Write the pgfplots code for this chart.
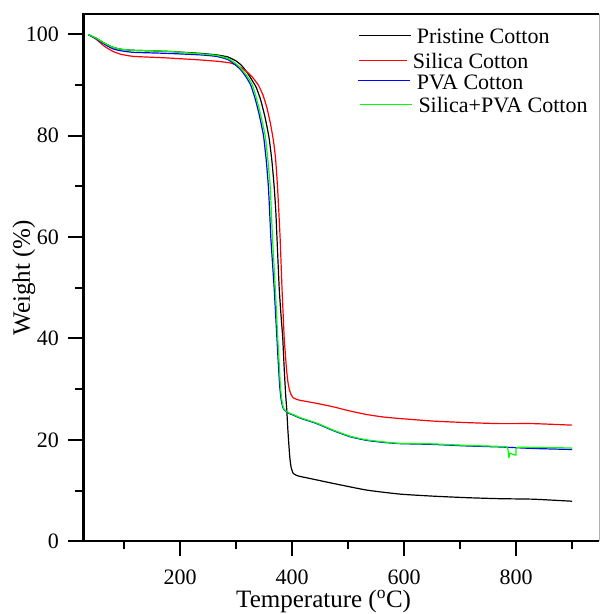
\documentclass[border=0pt]{standalone}
\usepackage{fontspec}
\setmainfont{Liberation Serif}
\usepackage{pgfplots}
\pgfplotsset{compat=1.18}
\begin{document}
\begin{tikzpicture}
\begin{axis}[
 scale only axis, width=515.7pt, height=527pt,
 xmin=27.3, xmax=948, ymin=0, ymax=103.9,
 axis lines*=left,
 axis line style={line width=2.4pt, black},
 xtick={200,400,600,800}, minor xtick={100,300,500,700,900},
 ytick={0,20,...,100}, minor ytick={10,30,...,90},
 tick align=outside,
 major tick length=15pt, minor tick length=8pt,
 tick style={line width=2pt, black},
 ticklabel style={font=\fontsize{22}{26}\selectfont},
 xticklabel style={yshift=-10pt},
 yticklabel style={xshift=-6pt},
 /pgf/number format/assume math mode=true,
 label style={font=\fontsize{25}{30}\selectfont},
 xlabel={Temperature (\textsuperscript{o}C)},
 ylabel={Weight (\%)},
 xlabel style={at={(axis description cs:0.466,-0.1262)}, anchor=base},
 ylabel style={at={(axis description cs:-0.1034,0.5)}, anchor=base},
 clip=false,
 no markers,
 every axis plot/.append style={line width=1.2pt, line join=round, smooth, tension=0.3},
]
\addplot[black] coordinates {
(36,99.9) (50,99.2) (65,98.2) (80,97.4) (95,97.0) (117,96.8) (176,96.6) (236,96.2) (265,95.9)
(285,95.5) (300,94.7) (310,93.8) (320,92.4) (328,91.0) (336,89.5) (344,87) (352,83.5) (359,79.5)
(364,75) (368,70) (371,65) (373,60) (377,50) (380,45) (383.4,40) (386,34) (388.5,29) (390.5,26)
(392.5,22) (394,19.5) (396,16.5) (398.5,14.5) (402,13.4) (408,13.0) (414,12.8) (444,12.1)
(474,11.4) (533,10.1) (593,9.3) (652,8.9) (712,8.6) (771,8.4) (831,8.3) (900,7.9)};
\addplot[red] coordinates {
(36,99.9) (50,99.0) (65,97.6) (80,96.6) (95,96.0) (117,95.6) (176,95.3) (236,94.9) (270,94.6)
(290,94.3) (300,93.9) (310,93.3) (320,92.5) (330,91.4) (340,89.9) (348,88.0) (355,85.5)
(361.5,82.3) (366.7,79) (370.5,75.5) (374,70) (378.6,60) (382,50) (384,45) (386,40) (388,37)
(390,34) (392.5,31.5) (395,30) (398,29) (402,28.3) (408,28.0) (414,27.8) (444,27.2) (474,26.5)
(503,25.7) (533,25.0) (563,24.5) (593,24.2) (652,23.7) (712,23.4) (771,23.2) (831,23.2) (900,22.9)};
\addplot[blue] coordinates {
(36,99.9) (50,99.1) (65,98.0) (80,97.1) (95,96.7) (117,96.4) (176,96.2) (236,95.9) (265,95.6)
(285,95.0) (298,94.0) (308,93.0) (317,91.7) (326,90) (334,87.3) (341,84.3) (349,80) (354,75)
(357.7,70) (360,65) (362,60) (365,55) (368,50) (373,40) (375.5,35) (378,30.5) (380.5,28)
(383,26.6) (386,25.9) (395,25.2) (404,24.8) (414,24.3) (444,23.2) (474,21.8) (504,20.6)
(533,19.9) (563,19.5) (593,19.25) (652,19.1) (712,18.8) (771,18.6) (831,18.3) (900,18.1)};
\addplot[green] coordinates {
(36,99.9) (50,99.2) (65,98.2) (80,97.4) (95,97.0) (117,96.8) (176,96.6) (236,96.1) (265,95.8)
(285,95.2) (298,94.3) (308,93.3) (318,92.0) (329,90) (336,87.5) (343,84.5) (352,80) (357,75)
(361,70) (363,65) (365,60) (367.5,55) (370,50) (374.5,40) (377,35) (379,31) (381,28.5)
(383.5,26.8) (386,26.0) (395,25.3) (404,24.9) (414,24.4) (444,23.3) (474,21.9) (504,20.7)
(533,20.0) (563,19.6) (593,19.3) (652,19.2) (712,18.9) (771,18.7) (784.6,18.5) (787,16.5)
(788.7,17.4) (791,17.3) (798,17.0) (800,17.0) (801,18.5) (831,18.5) (900,18.4)};
\draw[line width=2.4pt, black] ([xshift=-1.2pt]rel axis cs:0,1) -- (rel axis cs:1,1);
\draw[gray!60, line width=0.6pt] (rel axis cs:1,0) -- (rel axis cs:1,1);
\end{axis}
\begin{scope}[shift={(current axis.north west)}, every node/.style={anchor=base west, inner sep=0pt, font=\fontsize{22}{26}\selectfont}]
\draw[black, line width=1.2pt] (276pt,-21.4pt) -- (327.7pt,-21.4pt);
\node at (333.4pt,-29pt) {Pristine Cotton};
\draw[red, line width=1.2pt] (275.7pt,-46.4pt) -- (323.4pt,-46.4pt);
\node at (329.4pt,-54pt) {Silica Cotton};
\draw[blue, line width=1.2pt] (274.7pt,-66.5pt) -- (326.7pt,-66.5pt);
\node at (333.4pt,-74.8pt) {PVA Cotton};
\draw[green, line width=1.2pt] (276.7pt,-90.5pt) -- (328.7pt,-90.5pt);
\node at (335pt,-97.9pt) {Silica+PVA Cotton};
\end{scope}
\pgfresetboundingbox
\path ([shift={(-83.3pt,-72.7pt)}]current axis.south west) rectangle ([shift={(1pt,14.3pt)}]current axis.north east);
\end{tikzpicture}
\end{document}
